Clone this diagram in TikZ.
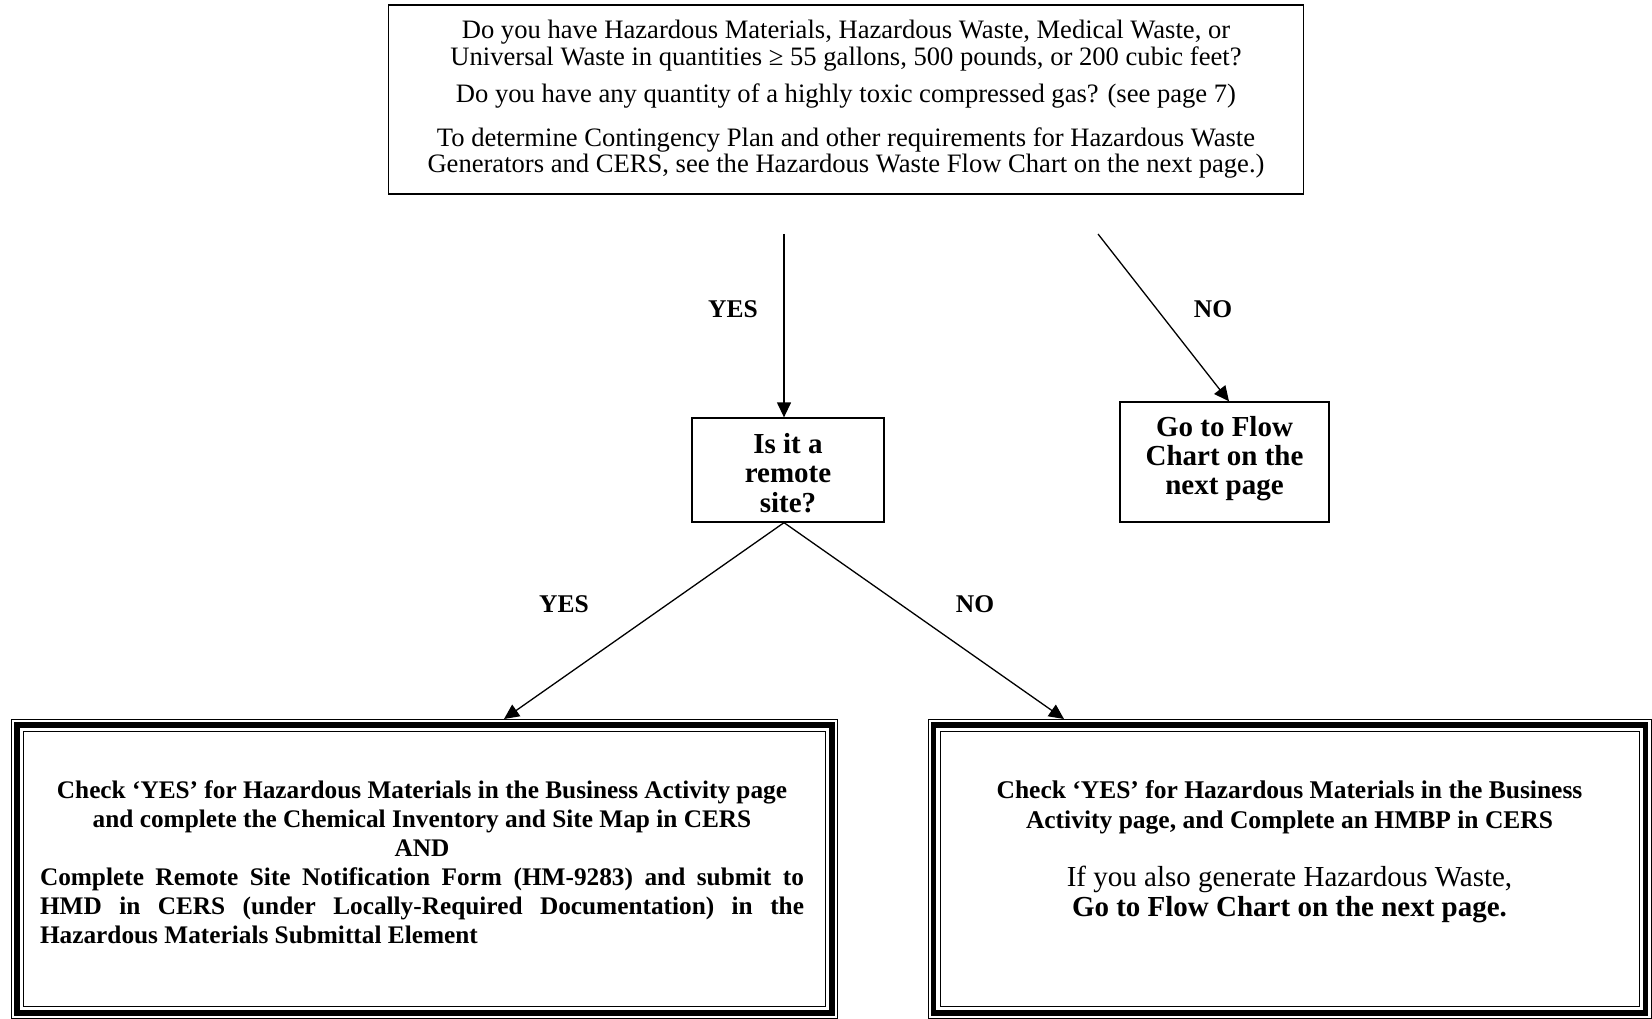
\documentclass[tikz,border=0pt]{standalone}
\usepackage{fontspec}
\setmainfont{Liberation Serif}
\usetikzlibrary{arrows.meta}

\begin{document}
\begin{tikzpicture}[x=1pt,y=-1pt,
    box/.style={draw, line width=1.3pt, inner sep=0pt, align=center},
    boxtext/.style={align=center, inner sep=0pt, font=\bfseries\fontsize{29}{29.3}\selectfont},
    lbl/.style={font=\bfseries\fontsize{25.5}{29}\selectfont},
    arr/.style={line width=1.3pt, -{Triangle[length=15pt,width=14pt]}},
    frame/.style={draw, line width=1pt, inner sep=0pt, minimum height=299pt}]
  \useasboundingbox (0,0) rectangle (1652,1019);
  \fill[white] (0,0) rectangle (1652,1019);

  \node[box, minimum width=915pt, minimum height=189pt,
        font=\fontsize{26.6}{26.3}\selectfont] (ask) at (846,99.5)
    {Do you have Hazardous Materials, Hazardous Waste, Medical Waste, or\\
     Universal Waste in quantities ≥ 55 gallons, 500 pounds, or 200 cubic feet?\\[10.6pt]
     Do you have any quantity of a highly toxic compressed gas? (see page 7)\\[18pt]
     To determine Contingency Plan and other requirements for Hazardous Waste\\
     Generators and CERS, see the Hazardous Waste Flow Chart on the next page.)};

  \coordinate (yesstart) at (784,234);
  \coordinate (nostart) at (1098,234);

  \node[box, minimum width=192pt, minimum height=104pt] (remote) at (788,470) {};
  \node[boxtext] (remotetext) at ([yshift=-3pt]remote) {Is it a\\ remote\\ site?};
  \node[box, minimum width=209pt, minimum height=120pt] (goto) at (1224.5,462) {};
  \node[boxtext] (gototext) at ([yshift=3.5pt]goto) {Go to Flow\\ Chart on the\\ next page};

  \draw[arr] (yesstart) -- (yesstart |- remote.north);
  \draw[arr] (nostart) -- ([xshift=4.5pt]goto.north);
  \node[lbl] (yes1) at (733,309) {YES};
  \node[lbl] (no1) at (1213,309) {NO};

  \node[frame, minimum width=826pt] (onsite) at (424.5,869) {};
  \node[frame, minimum width=723pt] (offsite) at (1289.5,869) {};
  \foreach \b in {onsite, offsite} {
    \draw[line width=5.5pt] ([shift={(6,6)}]\b.north west) rectangle ([shift={(-6,-6)}]\b.south east);
    \draw[line width=1pt] ([shift={(12.5,12.5)}]\b.north west) rectangle ([shift={(-12.5,-12.5)}]\b.south east);
  }

  \draw[arr] ([xshift=-4pt]remote.south) -- ([xshift=79.5pt]onsite.north);
  \draw[arr] ([xshift=-4pt]remote.south) -- ([xshift=-225.5pt]offsite.north);
  \node[lbl] (yes2) at (564,604) {YES};
  \node[lbl] (no2) at (975,604) {NO};

  \node[text width=764pt, align=justify, inner sep=0pt, anchor=north,
        font=\bfseries\fontsize{25.3}{29}\selectfont] (onsitetext) at (422,780)
    {{\centering Check ‘YES’ for Hazardous Materials in the Business Activity page\par
      and complete the Chemical Inventory and Site Map in CERS\par AND\par}
     \noindent Complete Remote Site Notification Form (HM-9283) and submit to\linebreak
     HMD in CERS (under Locally-Required Documentation) in the\linebreak
     Hazardous Materials Submittal Element\par};

  \node[align=center, inner sep=0pt, anchor=north,
        font=\bfseries\fontsize{25.5}{30.5}\selectfont] (offsitetext) at (1289.5,780)
    {Check ‘YES’ for Hazardous Materials in the Business\\
     Activity page, and Complete an HMBP in CERS\\[27pt]
     {\mdseries\fontsize{29}{29.5}\selectfont If you also generate Hazardous Waste,}\\
     {\fontsize{29}{29.5}\selectfont Go to Flow Chart on the next page.}};
\end{tikzpicture}
\end{document}
